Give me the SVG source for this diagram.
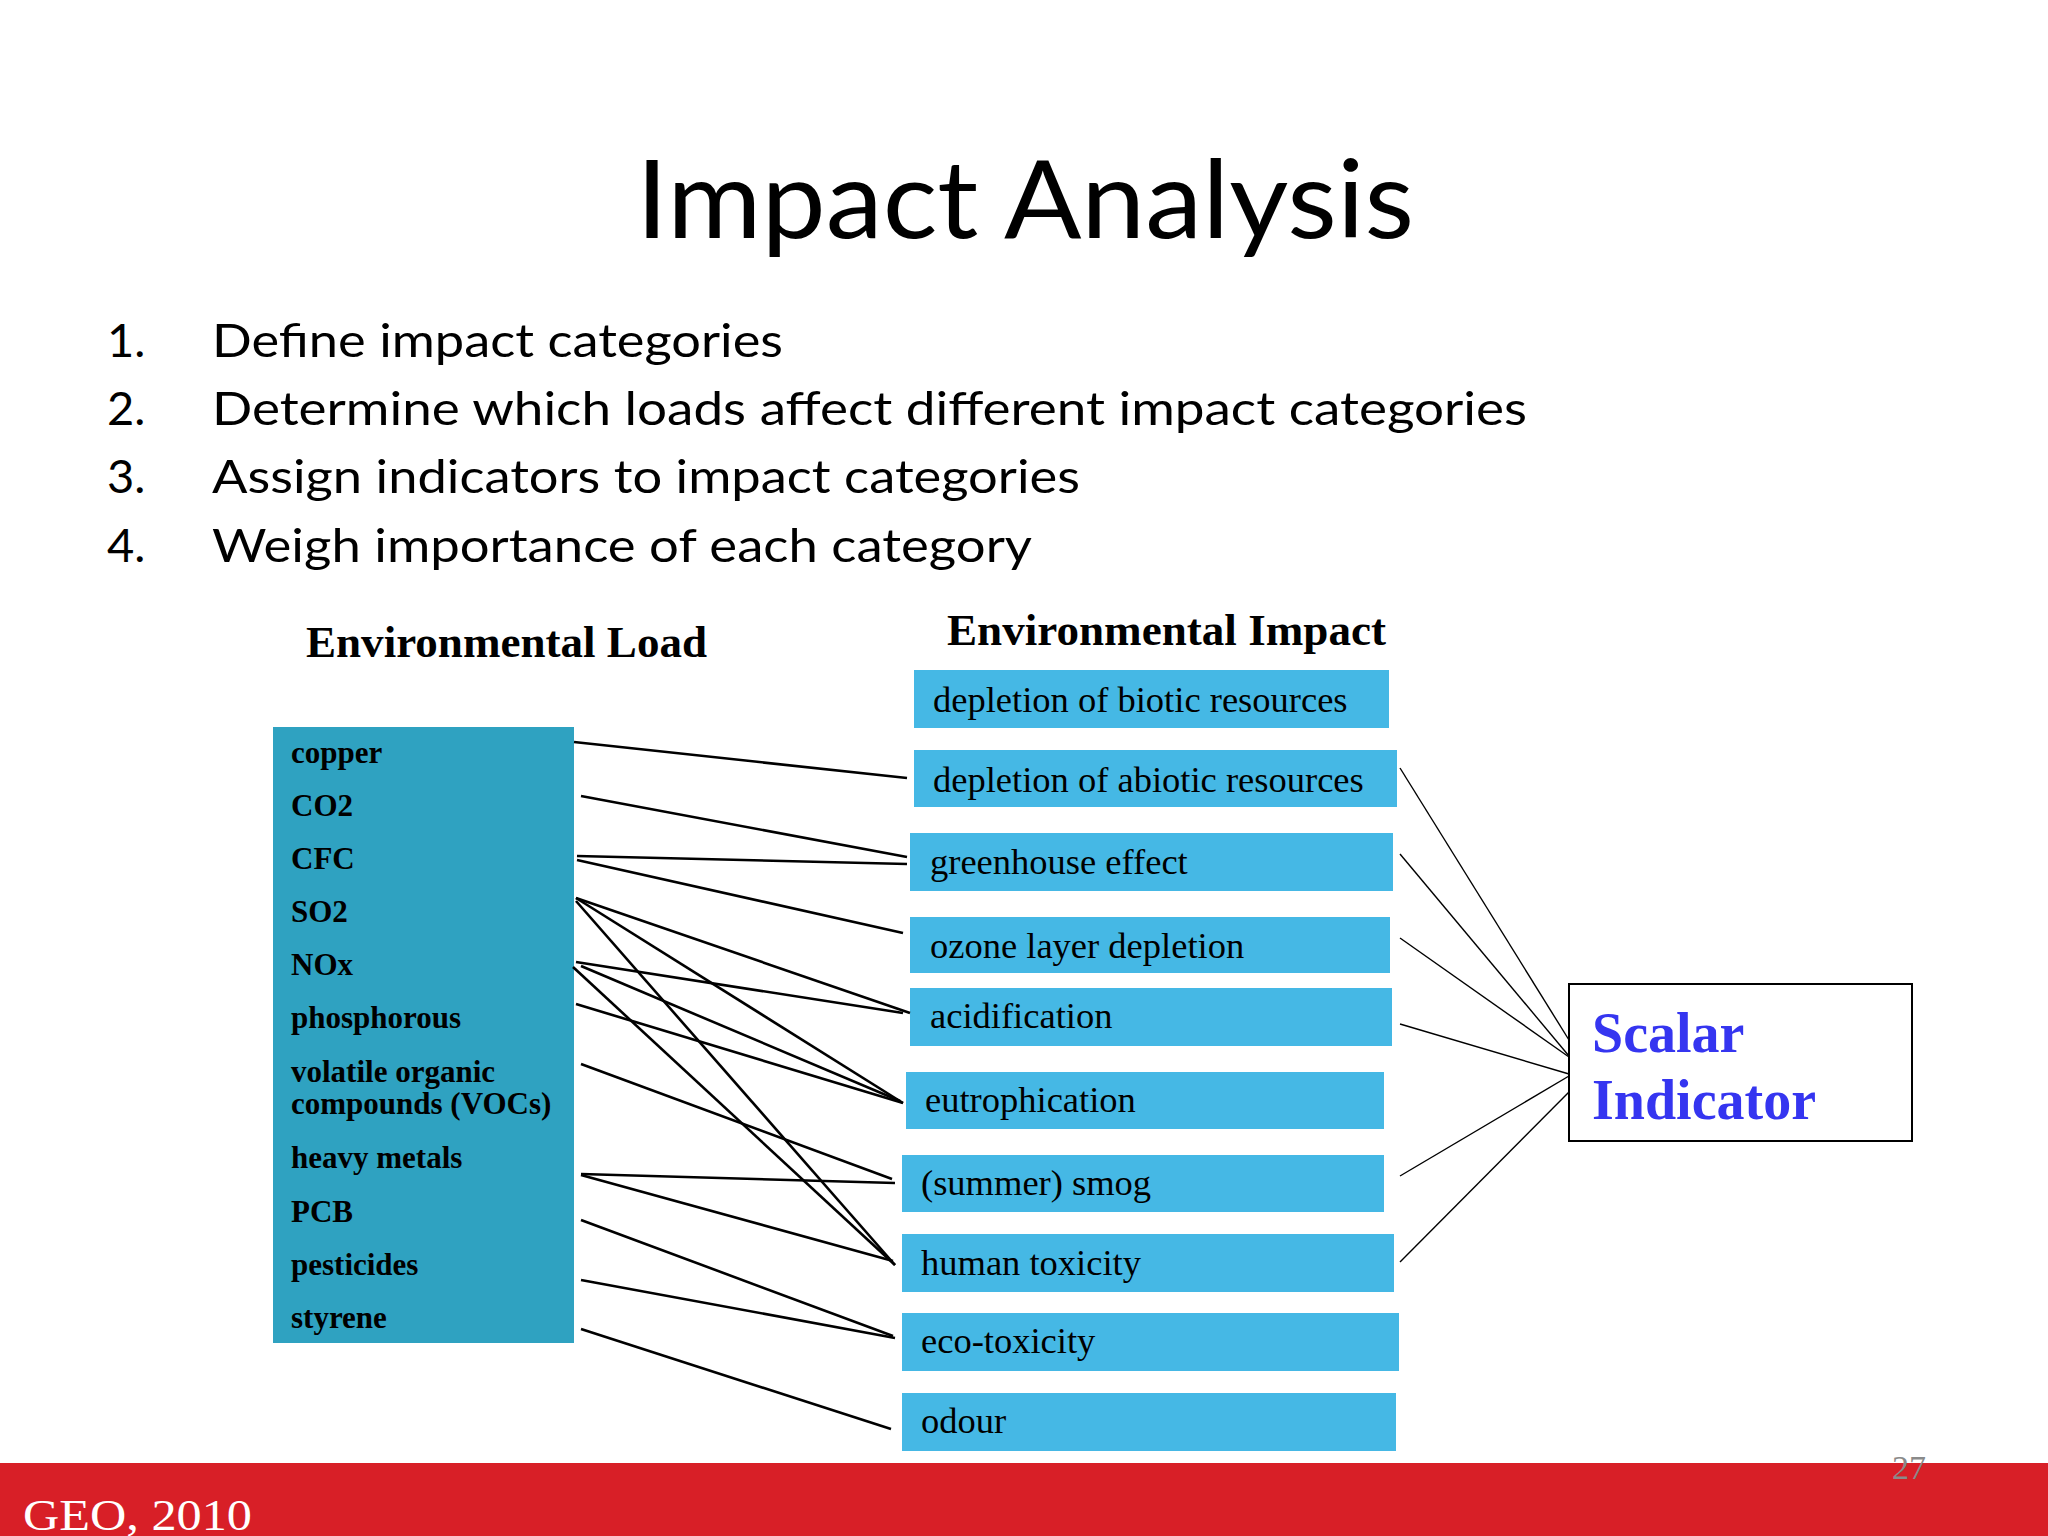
<svg xmlns="http://www.w3.org/2000/svg" width="2048" height="1536" viewBox="0 0 2048 1536">
<style>
.ttl{font-family:Lato,"Open Sans","Noto Sans",sans-serif;fill:#000}
.load{font-family:"Liberation Serif","Times New Roman",serif;font-weight:bold;font-size:31px;fill:#000}
.imp{font-family:"Liberation Serif","Times New Roman",serif;font-size:36.5px;fill:#000}
.hdr{font-family:"Liberation Serif","Times New Roman",serif;font-weight:bold;font-size:45px;fill:#000}
.ibox{fill:#45B8E5}
.lc{stroke:#000;stroke-width:2.6;fill:none}
.rc{stroke:#000;stroke-width:1.4;fill:none}
</style>
<rect x="0" y="0" width="2048" height="1536" fill="#fff"/>
<g id="title">
<text class="ttl" x="636" y="238" font-size="108" textLength="778" lengthAdjust="spacingAndGlyphs">Impact Analysis</text>
</g>
<g id="steps" class="ttl" font-size="47">
<text x="107" y="357">1.</text><text x="212" y="357" textLength="571" lengthAdjust="spacingAndGlyphs">Define impact categories</text>
<text x="107" y="425">2.</text><text x="212" y="425" textLength="1315" lengthAdjust="spacingAndGlyphs">Determine which loads affect different impact categories</text>
<text x="107" y="493">3.</text><text x="212" y="493" textLength="868" lengthAdjust="spacingAndGlyphs">Assign indicators to impact categories</text>
<text x="107" y="562">4.</text><text x="212" y="562" textLength="820" lengthAdjust="spacingAndGlyphs">Weigh importance of each category</text>
</g>
<g id="headers">
<text class="hdr" x="306" y="657" textLength="401" lengthAdjust="spacingAndGlyphs">Environmental Load</text>
<text class="hdr" x="947" y="645" textLength="439" lengthAdjust="spacingAndGlyphs">Environmental Impact</text>
</g>
<g id="loads">
<rect x="273" y="727" width="301" height="616" fill="#2FA2C1"/>
<text class="load" x="291" y="763">copper</text>
<text class="load" x="291" y="816">CO2</text>
<text class="load" x="291" y="869">CFC</text>
<text class="load" x="291" y="922">SO2</text>
<text class="load" x="291" y="975">NOx</text>
<text class="load" x="291" y="1028">phosphorous</text>
<text class="load" x="291" y="1082">volatile organic</text>
<text class="load" x="291" y="1114">compounds (VOCs)</text>
<text class="load" x="291" y="1168">heavy metals</text>
<text class="load" x="291" y="1222">PCB</text>
<text class="load" x="291" y="1275">pesticides</text>
<text class="load" x="291" y="1328">styrene</text>
</g>
<g id="imp-biotic"><rect class="ibox" x="914" y="670" width="475" height="58"/><text class="imp" x="933" y="712">depletion of biotic resources</text></g>
<g id="imp-abiotic"><rect class="ibox" x="914" y="750" width="483" height="57"/><text class="imp" x="933" y="792">depletion of abiotic resources</text></g>
<g id="imp-greenhouse"><rect class="ibox" x="910" y="833" width="483" height="58"/><text class="imp" x="930" y="874">greenhouse effect</text></g>
<g id="imp-ozone"><rect class="ibox" x="910" y="917" width="480" height="56"/><text class="imp" x="930" y="958">ozone layer depletion</text></g>
<g id="imp-acid"><rect class="ibox" x="910" y="988" width="482" height="58"/><text class="imp" x="930" y="1028">acidification</text></g>
<g id="imp-eutro"><rect class="ibox" x="906" y="1072" width="478" height="57"/><text class="imp" x="925" y="1112">eutrophication</text></g>
<g id="imp-smog"><rect class="ibox" x="902" y="1155" width="482" height="57"/><text class="imp" x="921" y="1195">(summer) smog</text></g>
<g id="imp-human"><rect class="ibox" x="902" y="1234" width="492" height="58"/><text class="imp" x="921" y="1275">human toxicity</text></g>
<g id="imp-eco"><rect class="ibox" x="902" y="1313" width="497" height="58"/><text class="imp" x="921" y="1353">eco-toxicity</text></g>
<g id="imp-odour"><rect class="ibox" x="902" y="1393" width="494" height="58"/><text class="imp" x="921" y="1433">odour</text></g>
<g id="scalar">
<rect x="1569" y="984" width="343" height="157" fill="#fff" stroke="#000" stroke-width="2"/>
<text x="1592" y="1052" font-family="'Liberation Serif','Times New Roman',serif" font-weight="bold" font-size="56" fill="#3535F0">Scalar</text>
<text x="1592" y="1119" font-family="'Liberation Serif','Times New Roman',serif" font-weight="bold" font-size="56" fill="#3535F0">Indicator</text>
</g>
<g id="connectors">
<line class="lc" x1="574" y1="742" x2="907" y2="778"/>
<line class="lc" x1="581" y1="796" x2="907" y2="857"/>
<line class="lc" x1="577" y1="856" x2="907" y2="864"/>
<line class="lc" x1="577" y1="860" x2="903" y2="933"/>
<line class="lc" x1="576" y1="898" x2="910" y2="1013"/>
<line class="lc" x1="576" y1="898" x2="903" y2="1103"/>
<line class="lc" x1="576" y1="901" x2="895" y2="1265"/>
<line class="lc" x1="576" y1="962" x2="903" y2="1013"/>
<line class="lc" x1="581" y1="966" x2="900" y2="1101"/>
<line class="lc" x1="573" y1="967" x2="895" y2="1265"/>
<line class="lc" x1="576" y1="1004" x2="903" y2="1103"/>
<line class="lc" x1="581" y1="1064" x2="892" y2="1179"/>
<line class="lc" x1="581" y1="1174" x2="895" y2="1183"/>
<line class="lc" x1="581" y1="1175" x2="893" y2="1261"/>
<line class="lc" x1="581" y1="1220" x2="893" y2="1336"/>
<line class="lc" x1="581" y1="1280" x2="895" y2="1338"/>
<line class="lc" x1="581" y1="1329" x2="891" y2="1429"/>
<line class="rc" x1="1400" y1="768" x2="1569" y2="1040"/>
<line class="rc" x1="1400" y1="854" x2="1569" y2="1056"/>
<line class="rc" x1="1400" y1="938" x2="1569" y2="1057"/>
<line class="rc" x1="1400" y1="1024" x2="1569" y2="1074"/>
<line class="rc" x1="1400" y1="1176" x2="1569" y2="1076"/>
<line class="rc" x1="1400" y1="1262" x2="1569" y2="1092"/>
</g>
<g id="footer">
<rect x="0" y="1463" width="2048" height="73" fill="#D81F27"/>
<text x="23" y="1530" font-family="'Liberation Serif',serif" font-size="44" fill="#fff" textLength="229" lengthAdjust="spacingAndGlyphs">GEO, 2010</text>
<text x="1892" y="1479" font-family="'Liberation Serif',serif" font-size="34" fill="#8A8A8A">27</text>
</g>
</svg>
